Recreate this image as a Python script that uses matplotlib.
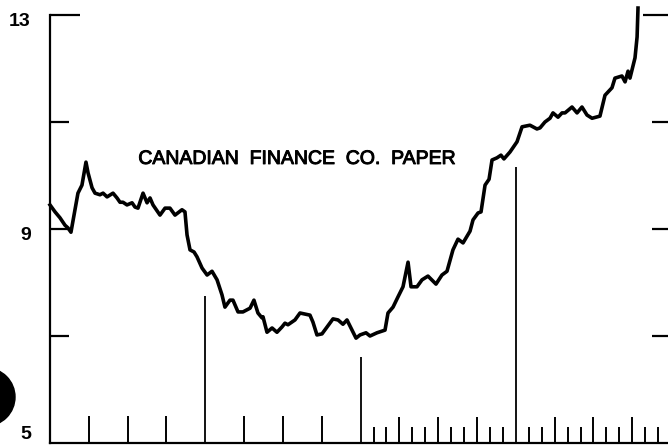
import numpy as np
from matplotlib import pyplot as plt
from matplotlib.patches import Ellipse
import matplotlib.patheffects as pe

# months since start of chart, rate (%)
months = [0.00, 0.39, 0.77, 1.16, 1.39, 1.62, 1.93, 2.16, 2.47, 2.78, 2.94, 3.25,
          3.48, 3.86, 4.10, 4.41, 4.87, 5.18, 5.41, 5.64, 5.95, 6.34, 6.57, 6.80,
          7.19, 7.50, 7.73, 7.96, 8.50, 8.89, 9.27, 9.66, 10.20, 10.43, 10.59, 10.82,
          11.13, 11.36, 11.75, 12.14, 12.52, 12.91, 13.29, 13.52, 13.91, 14.14, 14.53, 14.91,
          15.46, 15.76, 16.07, 16.38, 16.46, 16.77, 17.16, 17.54, 17.93, 18.16, 18.39, 18.93,
          19.32, 19.71, 20.09, 20.32, 20.63, 21.02, 21.41, 21.87, 22.26, 22.64, 22.95, 23.26,
          23.65, 23.96, 24.42, 24.73, 25.27, 25.89, 26.12, 26.51, 26.89, 27.28, 27.67, 27.90,
          28.36, 28.75, 29.21, 29.83, 30.29, 30.68, 31.14, 31.53, 31.92, 32.46, 32.69, 33.08,
          33.31, 33.62, 33.93, 34.16, 34.54, 34.85, 35.08, 35.55, 36.09, 36.48, 37.09, 37.63,
          37.87, 38.25, 38.64, 38.87, 39.26, 39.57, 39.80, 40.34, 40.73, 41.11, 41.50, 41.89,
          42.50, 42.89, 43.43, 43.66, 44.20, 44.44, 44.67, 44.82, 45.21, 45.37, 45.44]
taux = [9.45, 9.32, 9.21, 9.07, 9.02, 8.94, 9.36, 9.67, 9.82, 10.25, 10.05, 9.77,
        9.67, 9.64, 9.67, 9.60, 9.67, 9.58, 9.50, 9.50, 9.45, 9.49, 9.41, 9.39,
        9.67, 9.49, 9.58, 9.45, 9.26, 9.39, 9.39, 9.26, 9.36, 9.32, 8.89, 8.61,
        8.57, 8.48, 8.27, 8.14, 8.21, 8.05, 7.77, 7.54, 7.67, 7.67, 7.45, 7.45,
        7.52, 7.67, 7.43, 7.34, 7.36, 7.07, 7.15, 7.07, 7.17, 7.24, 7.21, 7.30,
        7.43, 7.41, 7.39, 7.26, 7.02, 7.04, 7.17, 7.32, 7.30, 7.22, 7.30, 7.15,
        6.96, 7.02, 7.06, 7.00, 7.06, 7.11, 7.43, 7.54, 7.73, 7.92, 8.38, 7.92,
        7.92, 8.05, 8.12, 7.97, 8.14, 8.21, 8.61, 8.81, 8.74, 8.96, 9.17, 9.30,
        9.32, 9.82, 9.93, 10.29, 10.33, 10.38, 10.31, 10.44, 10.63, 10.91, 10.94, 10.87,
        10.89, 11.00, 11.07, 11.17, 11.09, 11.17, 11.17, 11.28, 11.17, 11.28, 11.13, 11.07,
        11.11, 11.50, 11.64, 11.82, 11.86, 11.75, 11.95, 11.82, 12.20, 12.59, 13.13]

ytick_vals = [13, 11, 9, 7]
ylabels = {13: "13", 9: "9", 5: "5"}
year_marks = [12, 24, 36]
year_tops = [7.75, 6.6, 10.15]
quarter_ticks = [3, 6, 9, 15, 18, 21]
month_ticks = [m for m in range(25, 48) if m != 36]

px_x = 12.94   # pixels per month
px_y = 53.5    # pixels per percent

f = plt.figure(figsize=(6.68, 4.45), dpi=100)
ax = f.add_axes([50 / 668, 2 / 445, 618 / 668, 443 / 445])
ax.set_xlim(0, 618 / px_x)
ax.set_ylim(5, 5 + 443 / px_y)
xmax = 618 / px_x

ax.plot(months, taux, color="black", lw=2.6, solid_joinstyle="round", clip_on=False)

# axes
for s in ["top", "right"]:
    ax.spines[s].set_visible(False)
ax.spines["left"].set_bounds(5, 13)
ax.spines["left"].set_linewidth(1.6)
ax.spines["bottom"].set_linewidth(1.6)
ax.set_xticks([])
ax.set_yticks([])

# y ticks (left and right)
for v in ytick_vals:
    ln_l = 30 if v == 13 else 19
    ln_r = 25 if v == 13 else 16
    ax.hlines(v, 0, ln_l / px_x, color="black", lw=1.6, clip_on=False)
    ax.hlines(v, xmax - ln_r / px_x, xmax, color="black", lw=1.6, clip_on=False)

for v, t in ylabels.items():
    yy = v - 0.12 if v > 5 else 5.0
    ax.text(-19 / px_x, yy, t, ha="right", va="center" if v > 5 else "bottom",
            fontsize=14, fontweight="bold", family="Liberation Sans", clip_on=False)

# x ticks
ax.vlines(year_marks, 5, year_tops, color="black", lw=1.3)
ax.vlines(quarter_ticks, 5, 5 + 27 / px_y, color="black", lw=1.4)
ax.vlines(month_ticks, 5,
          [5 + (26 if m % 3 == 0 else 16) / px_y for m in month_ticks],
          color="black", lw=1.4)

ax.text(19.1, 10.30, "CANADIAN  FINANCE  CO.  PAPER", ha="center", va="center",
        fontsize=14, family="Liberation Sans",
        path_effects=[pe.withStroke(linewidth=0.7, foreground="black")])

# trou de perforation
f.patches.append(Ellipse((-14 / 668, 1 - 397 / 445), 58 / 668, 58 / 445,
                         transform=f.transFigure, color="black"))

f.savefig("out.png", dpi=100)
